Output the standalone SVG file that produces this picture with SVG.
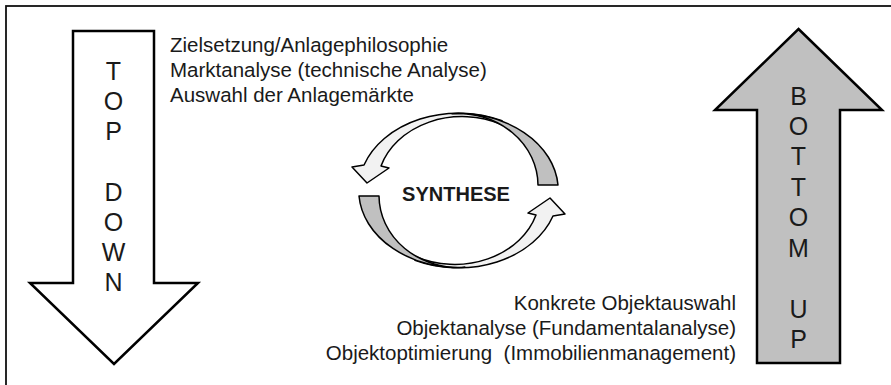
<svg xmlns="http://www.w3.org/2000/svg" width="891" height="385" viewBox="0 0 891 385">
<style>
.txt{font-family:"Liberation Sans",Arial,sans-serif;font-size:20.5px;fill:#1a1a1a}
.big{font-family:"Liberation Sans",Arial,sans-serif;font-size:25px;fill:#1a1a1a;text-anchor:middle}
.bigarrow{stroke:#000;stroke-width:2.5;stroke-linejoin:miter}
.ring{stroke:#000;stroke-width:1.5;stroke-linejoin:round}
.gray{fill:#c0c0c0}
.light{fill:#f2f2f2}
</style>
<rect x="6" y="6" width="900" height="400" fill="#fff" stroke="#111" stroke-width="1.8"/>
<g id="topdown">
<polygon class="bigarrow" fill="#fff" points="73,31 154,31 154,283 198,283 114,364 30,283 73,283"/>
<text class="big" x="113.5" y="80">T</text>
<text class="big" x="113.5" y="110">O</text>
<text class="big" x="113.5" y="140">P</text>
<text class="big" x="113.5" y="201">D</text>
<text class="big" x="113.5" y="231">O</text>
<text class="big" x="113.5" y="261">W</text>
<text class="big" x="113.5" y="291">N</text>
</g>
<g id="bottomup">
<polygon class="bigarrow gray" points="798.5,29 882,110 840,110 840,363 757,363 757,110 715,110"/>
<text class="big" x="798.5" y="105">B</text>
<text class="big" x="798.5" y="135">O</text>
<text class="big" x="798.5" y="165">T</text>
<text class="big" x="798.5" y="196">T</text>
<text class="big" x="798.5" y="226">O</text>
<text class="big" x="798.5" y="257">M</text>
<text class="big" x="798.5" y="318">U</text>
<text class="big" x="798.5" y="348">P</text>
</g>
<g id="toptext">
<text class="txt" x="170" y="52">Zielsetzung/Anlagephilosophie</text>
<text class="txt" x="170" y="77">Marktanalyse (technische Analyse)</text>
<text class="txt" x="170" y="102">Auswahl der Anlagemärkte</text>
</g>
<g id="bottomtext" text-anchor="end">
<text class="txt" x="736" y="310">Konkrete Objektauswahl</text>
<text class="txt" x="736" y="335">Objektanalyse (Fundamentalanalyse)</text>
<text class="txt" x="736" y="360" xml:space="preserve">Objektoptimierung  (Immobilienmanagement)</text>
</g>
<g id="synthese">
<g id="ring-upper">
<path class="ring light" d="M502,120.8 A100 77 0 0 0 364,165 L352,167 L367,183 L389,168 L381,166 A85 70 0 0 1 501,124.3 Z"/>
<path class="ring gray" d="M452,113.7 A100 77 0 0 1 558,185 L538,185 A80 72 0 0 0 452,113.7 Z"/>
</g>
<g id="ring-lower" transform="rotate(180 458.5 190.5)">
<path class="ring light" d="M502,120.8 A100 77 0 0 0 364,165 L352,167 L367,183 L389,168 L381,166 A85 70 0 0 1 501,124.3 Z"/>
<path class="ring gray" d="M452,113.7 A100 77 0 0 1 558,185 L538,185 A80 72 0 0 0 452,113.7 Z"/>
</g>
<text x="456" y="201" text-anchor="middle" font-family="Liberation Sans, Arial, sans-serif" font-size="20" font-weight="bold" fill="#1a1a1a">SYNTHESE</text>
</g>
</svg>
